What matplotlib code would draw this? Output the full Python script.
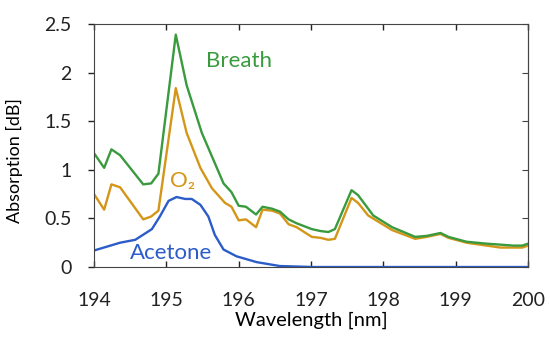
import numpy as np
import matplotlib
matplotlib.use('Agg')
import matplotlib.pyplot as plt

plt.rcParams['font.family'] = ['Lato', 'DejaVu Sans']

# Breath spectrum
breath_wl = [194.0, 194.14, 194.24, 194.36, 194.68, 194.79, 194.89, 195.13, 195.28,
             195.49, 195.79, 195.9, 196.0, 196.1, 196.24, 196.33, 196.46, 196.57,
             196.69, 196.8, 197.01, 197.13, 197.24, 197.33, 197.56, 197.65, 197.86,
             198.12, 198.44, 198.6, 198.79, 198.9, 199.15, 199.43, 199.62, 199.8,
             199.92, 200.0]
breath = [1.17, 1.02, 1.21, 1.15, 0.85, 0.86, 0.96, 2.39, 1.87,
          1.38, 0.86, 0.77, 0.63, 0.62, 0.54, 0.62, 0.60, 0.57,
          0.49, 0.45, 0.39, 0.37, 0.36, 0.39, 0.79, 0.74, 0.53,
          0.41, 0.31, 0.32, 0.35, 0.31, 0.26, 0.24, 0.23, 0.22,
          0.22, 0.24]

# O2 spectrum
o2_wl = [194.0, 194.14, 194.24, 194.36, 194.68, 194.79, 194.89, 195.13, 195.28,
         195.47, 195.63, 195.81, 195.9, 196.0, 196.1, 196.24, 196.33, 196.46,
         196.57, 196.69, 196.8, 197.01, 197.13, 197.24, 197.33, 197.56, 197.65,
         197.79, 198.12, 198.44, 198.6, 198.79, 198.9, 199.15, 199.43, 199.62,
         199.8, 199.92, 200.0]
o2 = [0.75, 0.59, 0.85, 0.82, 0.49, 0.52, 0.58, 1.84, 1.38,
      1.02, 0.81, 0.66, 0.62, 0.48, 0.49, 0.41, 0.59, 0.58,
      0.55, 0.44, 0.41, 0.31, 0.30, 0.28, 0.29, 0.71, 0.66,
      0.53, 0.38, 0.29, 0.31, 0.34, 0.30, 0.25, 0.22, 0.20,
      0.20, 0.20, 0.22]

# Acetone spectrum
acetone_wl = [194.0, 194.36, 194.57, 194.8, 194.91, 195.03, 195.14, 195.26, 195.35,
              195.47, 195.58, 195.67, 195.79, 195.97, 196.25, 196.57, 197.03,
              198.0, 199.0, 200.0]
acetone = [0.17, 0.25, 0.28, 0.39, 0.52, 0.68, 0.72, 0.70, 0.70,
           0.64, 0.52, 0.33, 0.18, 0.11, 0.05, 0.01, 0.0,
           0.0, 0.0, 0.0]

c_breath = '#3a9a3e'
c_o2 = '#d49618'
c_acetone = '#2c5cc8'

fig = plt.figure(figsize=(5.5, 3.47), dpi=100)
ax = fig.add_axes([0.171, 0.2305, 0.789, 0.7005])

ax.plot(acetone_wl, acetone, color=c_acetone, lw=1.7)
ax.plot(o2_wl, o2, color=c_o2, lw=1.7)
ax.plot(breath_wl, breath, color=c_breath, lw=1.7)

ax.text(196.0, 2.12, 'Breath', color=c_breath, fontsize=16, ha='center', va='center')
ax.text(195.22, 0.88, 'O₂', color=c_o2, fontsize=16, ha='center', va='center')
ax.text(195.07, 0.14, 'Acetone', color=c_acetone, fontsize=16, ha='center', va='center')

ax.set_xlim(194, 200)
ax.set_ylim(0, 2.5)
ax.set_xticks(np.arange(194, 201, 1))
ax.set_yticks([0, 0.5, 1, 1.5, 2, 2.5])
ax.set_yticklabels(['0', '0.5', '1', '1.5', '2', '2.5'])
ax.tick_params(axis='both', labelsize=14, colors='#222222', length=4, width=1)
ax.tick_params(axis='x', direction='in', top=True, pad=18)
ax.tick_params(axis='y', direction='out', right=False, pad=12)
ax2 = ax.secondary_yaxis('right')
ax2.set_yticks([0, 0.5, 1, 1.5, 2, 2.5])
ax2.tick_params(direction='in', labelright=False, length=4, colors='#444444')
for s in ax.spines.values():
    s.set_color('#444444')
ax2.spines['right'].set_color('#444444')

ax.set_xlabel('Wavelength [nm]', fontsize=14.5, labelpad=2)
ax.set_ylabel('Absorption [dB]', fontsize=13)
ax.yaxis.set_label_coords(-0.164, 0.436)

fig.savefig('out.png', dpi=100)
